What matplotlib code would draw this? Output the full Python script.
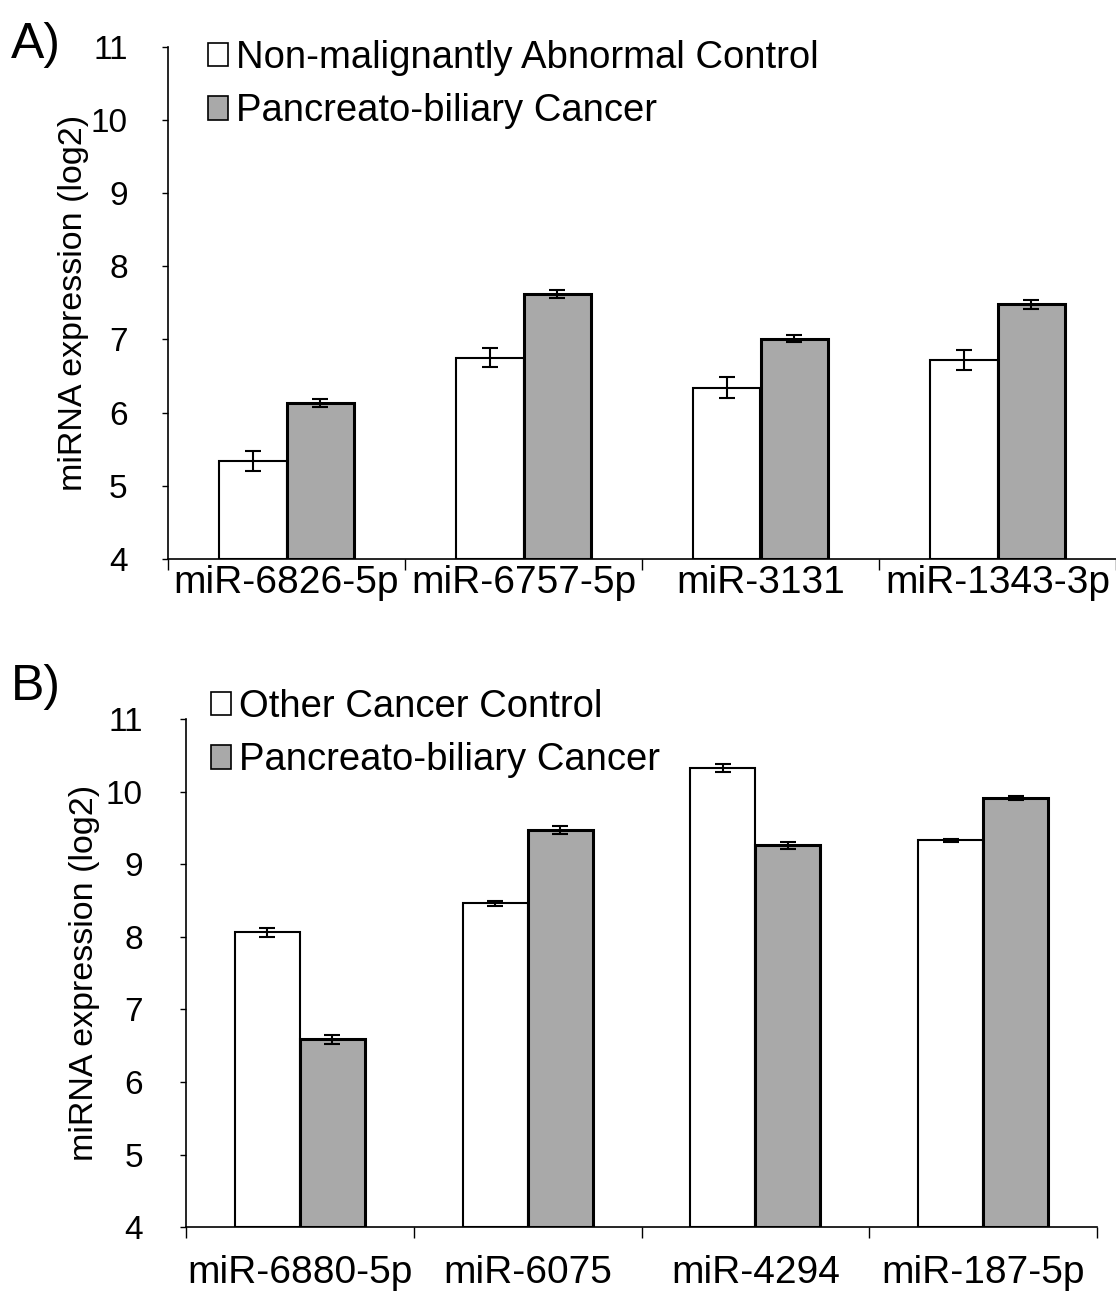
import numpy as np
import matplotlib.pyplot as plt
from matplotlib.patches import Patch

plt.rcParams['font.family'] = ['Liberation Sans', 'DejaVu Sans']

# panel A
genes_a = ['miR-6826-5p', 'miR-6757-5p', 'miR-3131', 'miR-1343-3p']
ctrl_a = [5.34, 6.75, 6.34, 6.72]
ctrl_a_err = [0.14, 0.13, 0.14, 0.14]
canc_a = [6.13, 7.62, 7.01, 7.48]
canc_a_err = [0.05, 0.05, 0.05, 0.06]
legend_a = ['Non-malignantly Abnormal Control', 'Pancreato-biliary Cancer']

# panel B
genes_b = ['miR-6880-5p', 'miR-6075', 'miR-4294', 'miR-187-5p']
ctrl_b = [8.06, 8.46, 10.32, 9.33]
ctrl_b_err = [0.06, 0.04, 0.055, 0.02]
canc_b = [6.59, 9.47, 9.26, 9.91]
canc_b_err = [0.06, 0.05, 0.05, 0.025]
legend_b = ['Other Cancer Control', 'Pancreato-biliary Cancer']

GRAY = '#a9a9a9'
W = 0.285

fig = plt.figure(figsize=(11.16, 12.91), dpi=100)
ax_a = fig.add_axes([168/1116, 1 - 559/1291, 948/1116, (559 - 46.7)/1291])
ax_b = fig.add_axes([186/1116, 1 - 1227.3/1291, 911/1116, (1227.3 - 719)/1291])


def panel(ax, genes, c, ce, p, pe, labels, xmax, lab_pad, tick_pad, ylab_x, leg_xy):
    x = np.arange(len(genes))
    ax.bar(x - W/2, np.array(c) - 4, W, bottom=4, color='white', edgecolor='black', linewidth=1.5, zorder=2)
    ax.bar(x + W/2, np.array(p) - 4, W, bottom=4, color=GRAY, edgecolor='black', linewidth=2.2, zorder=2)
    ax.errorbar(x - W/2, c, yerr=ce, fmt='none', ecolor='black', elinewidth=1.5, capsize=6, capthick=1.5, zorder=3)
    ax.errorbar(x + W/2, p, yerr=pe, fmt='none', ecolor='black', elinewidth=1.5, capsize=6, capthick=1.5, zorder=3)
    ax.set_xlim(-0.5, xmax)
    ax.set_ylim(4, 11)
    ax.set_yticks(range(4, 12))
    ax.tick_params(axis='y', direction='out', length=4, width=1, labelsize=24, pad=tick_pad)
    ax.set_xticks(np.arange(-0.5, len(genes) + 0.5, 1.0))
    ax.set_xticklabels([])
    ax.set_xticks(x, minor=True)
    ax.set_xticklabels(genes, minor=True, fontsize=28)
    ax.tick_params(axis='x', which='major', direction='out', length=8, width=1)
    ax.tick_params(axis='x', which='minor', length=0, pad=lab_pad)
    for s in ['top', 'right']:
        ax.spines[s].set_visible(False)
    for s in ['left', 'bottom']:
        ax.spines[s].set_linewidth(1.2)
    ax.set_ylabel('miRNA expression (log2)', fontsize=24.5)
    ax.yaxis.set_label_coords(ylab_x, 0.5)
    handles = [Patch(facecolor='white', edgecolor='black', linewidth=1.2),
               Patch(facecolor=GRAY, edgecolor='black', linewidth=1.2)]
    fig.legend(handles, labels, loc='upper left', bbox_to_anchor=leg_xy, frameon=False,
               fontsize=27.5, handlelength=0.52, handleheight=0.58, handletextpad=0.22,
               labelspacing=0.45, borderaxespad=0, borderpad=0)


panel(ax_a, genes_a, ctrl_a, ctrl_a_err, canc_a, canc_a_err, legend_a,
      -0.5 + 948/239, 4, 25, -0.083, (208/1116, 1 - 40/1291))
panel(ax_b, genes_b, ctrl_b, ctrl_b_err, canc_b, canc_b_err, legend_b,
      3.5, 20, 27, -0.094, (211/1116, 1 - 689/1291))

fig.text(11/1116, 1 - 58/1291, 'A)', fontsize=36)
fig.text(11/1116, 1 - 700/1291, 'B)', fontsize=36)

fig.savefig('out.png', dpi=100)
